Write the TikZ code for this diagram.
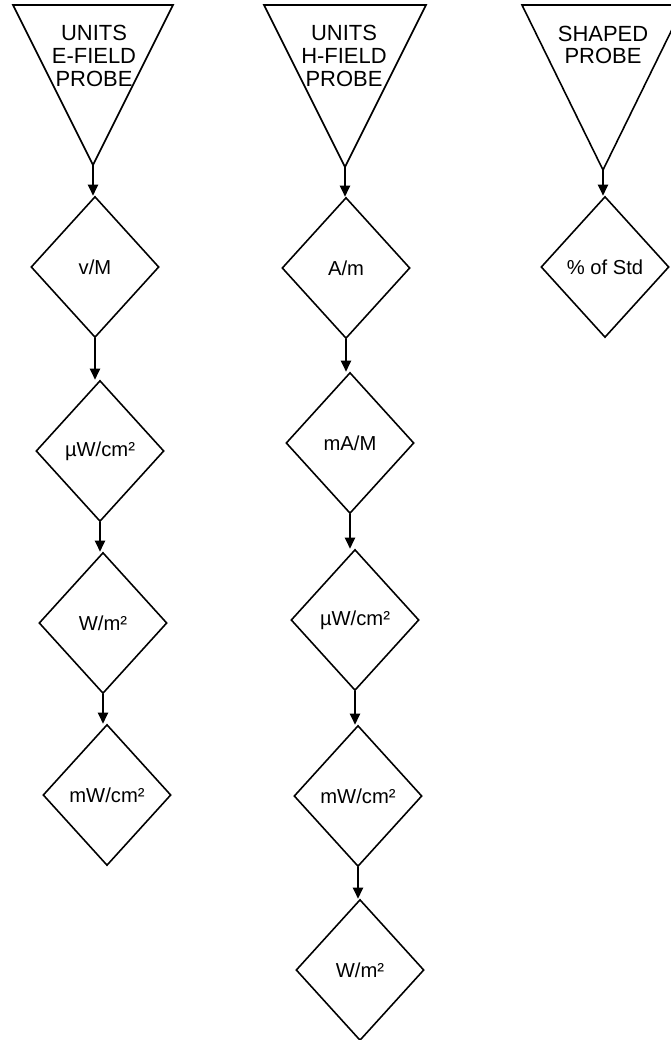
\documentclass[tikz,border=0pt]{standalone}
\usepackage{fontspec}
\setmainfont{Liberation Sans}
\usetikzlibrary{shapes.geometric,arrows.meta}

\begin{document}
\begin{tikzpicture}[x=0.02cm,y=-0.02cm,
    unit/.style={diamond,draw,line width=0.9pt,minimum width=2.56cm,minimum height=2.82cm,
                 inner sep=0pt,font=\fontsize{11.5}{13}\selectfont},
    probe/.style={align=center,font=\fontsize{12.5}{13}\selectfont},
    link/.style={line width=1.2pt,-{Triangle[length=2.2mm,width=2mm]}}]
    \useasboundingbox (0,0) rectangle (671,1040);
    \clip (0,0) rectangle (671,1040);

    % Probe triangles
    \draw[line width=0.9pt] (13,5) -- (173,5) -- (93,165) -- cycle;
    \draw[line width=0.9pt] (264,5) -- (426,5) -- (345,167) -- cycle;
    \draw[line width=0.9pt] (522,5) -- (684,5) -- (603,170) -- cycle;
    \coordinate (ea) at (93,165);   % E-field apex
    \coordinate (ha) at (345,167);  % H-field apex
    \coordinate (sa) at (603,170);  % shaped apex
    \node[probe] (et) at (94,56) {UNITS\\E-FIELD\\PROBE};
    \node[probe] (ht) at (344,56) {UNITS\\H-FIELD\\PROBE};
    \node[probe] (st) at (603,45) {SHAPED\\PROBE};

    % E-field units
    \node[unit] (e1) at (95,267) {v/M};
    \node[unit] (e2) at (100,451) {µW/cm²};
    \node[unit] (e3) at (103,623) {W/m²};
    \node[unit] (e4) at (107,795) {mW/cm²};

    % H-field units
    \node[unit] (h1) at (346,268) {A/m};
    \node[unit] (h2) at (350,443) {mA/M};
    \node[unit] (h3) at (355,620) {µW/cm²};
    \node[unit] (h4) at (358,796) {mW/cm²};
    \node[unit] (h5) at (360,970) {W/m²};

    % Shaped probe
    \node[unit] (s1) at (605,267) {\% of Std};

    % Links
    \draw[link] (ea) -- (ea |- e1.north);
    \draw[link] (ha) -- (ha |- h1.north);
    \draw[link] (sa) -- (sa |- s1.north);
    \foreach \a/\b in {e1/e2,e2/e3,e3/e4,h1/h2,h2/h3,h3/h4,h4/h5} {
        \draw[link] (\a.south) -- (\a.south |- \b.north);
    }
\end{tikzpicture}
\end{document}
